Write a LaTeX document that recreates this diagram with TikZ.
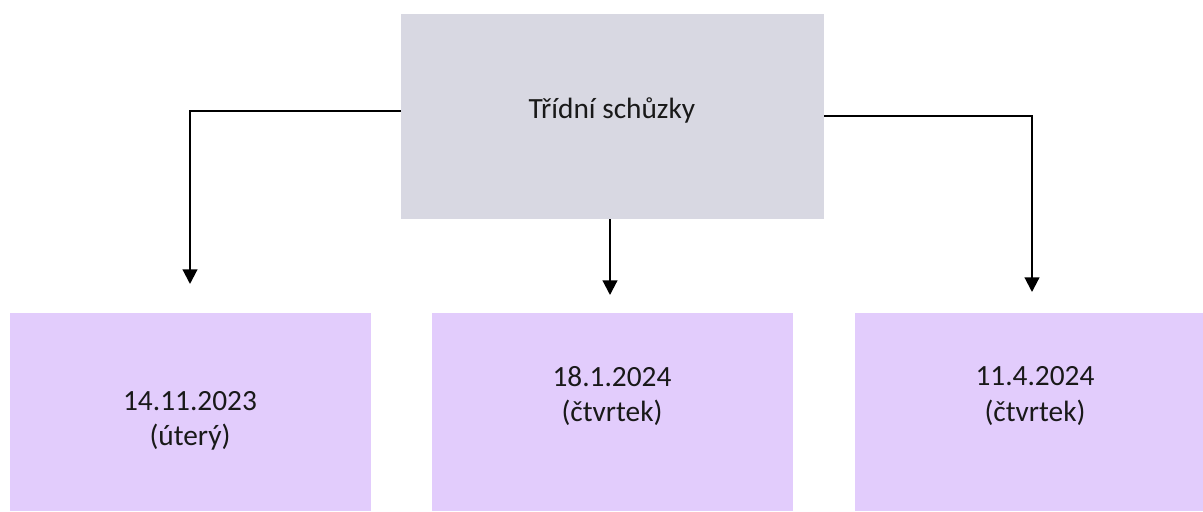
\documentclass[tikz,border=0pt]{standalone}
\usepackage{fontspec}
\setmainfont{Carlito}
\usetikzlibrary{arrows.meta}
\definecolor{headfill}{RGB}{216,216,226}
\definecolor{datefill}{RGB}{226,204,252}
\definecolor{inktext}{RGB}{25,25,25}
\begin{document}
\begin{tikzpicture}[x=0.75pt,y=-0.75pt,
  headbox/.style={rectangle,fill=headfill,draw=none,minimum width=317.25pt,minimum height=153.75pt,inner sep=0pt},
  datebox/.style={rectangle,fill=datefill,draw=none,minimum width=270.75pt,minimum height=148.5pt,inner sep=0pt},
  boxtext/.style={font=\fontsize{22}{26.5}\selectfont,text=inktext,align=center,inner sep=0pt},
  link/.style={line width=1.6pt,-{Triangle[length=11pt,width=11pt]}}]
\useasboundingbox (0,0) rectangle (1203,511);
% heading box
\node[headbox] (head) at (612.5,116.5) {};
\node[boxtext] (headtxt) at (612,110) {Třídní schůzky};
% date boxes
\node[datebox] (d1) at (190.5,412) {};
\node[datebox] (d2) at (612.5,412) {};
\node[datebox,minimum width=261pt] (d3) at (1029,412) {};
\node[boxtext] (t1) at (190,421) {14.11.2023\\(úterý)};
\node[boxtext] (t2) at (612,396) {18.1.2024\\(čtvrtek)};
\node[boxtext] (t3) at (1035,396) {11.4.2024\\(čtvrtek)};
% arrow ends
\coordinate (e1) at (190,284);
\coordinate (e2) at (610,295);
\coordinate (e3) at (1032,292);
\draw[link] (head.west |- 0,111) -| (e1);
\draw[link] (e2 |- head.south) -- (e2);
\draw[link] (head.east |- 0,116) -| (e3);
\end{tikzpicture}
\end{document}
